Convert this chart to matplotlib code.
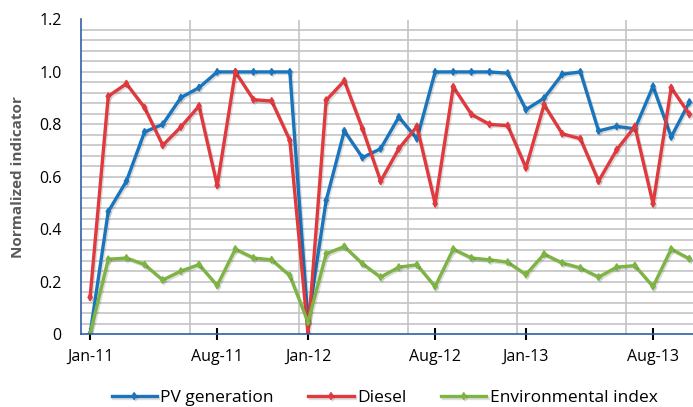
import numpy as np
import matplotlib.pyplot as plt
import matplotlib.patheffects as pe

# monthly values, Jan-11 .. Oct-13
months = [m + "-" + y for y in ["11", "12", "13"]
          for m in ["Jan", "Feb", "Mar", "Apr", "May", "Jun",
                    "Jul", "Aug", "Sep", "Oct", "Nov", "Dec"]][:34]

pv = [0, 0.467, 0.583, 0.771, 0.80, 0.902, 0.94, 1.0, 1.0, 1.0, 1.0, 1.0,
      0.05, 0.51, 0.775, 0.673, 0.707, 0.828, 0.745, 1.0, 1.0, 1.0, 1.0, 0.995,
      0.856, 0.90, 0.991, 1.0, 0.775, 0.792, 0.783, 0.945, 0.752, 0.885]
diesel = [0.14, 0.907, 0.955, 0.864, 0.72, 0.79, 0.87, 0.567, 1.0, 0.894, 0.889, 0.739,
          0.0, 0.892, 0.966, 0.783, 0.583, 0.707, 0.792, 0.497, 0.943, 0.838, 0.80, 0.795,
          0.634, 0.875, 0.764, 0.745, 0.583, 0.703, 0.792, 0.497, 0.94, 0.838]
env = [0.0, 0.285, 0.29, 0.265, 0.206, 0.24, 0.265, 0.185, 0.324, 0.29, 0.283, 0.223,
       0.045, 0.306, 0.334, 0.268, 0.217, 0.255, 0.264, 0.181, 0.324, 0.29, 0.283, 0.274,
       0.227, 0.305, 0.271, 0.252, 0.217, 0.255, 0.261, 0.181, 0.324, 0.287]

tick_labels = ["Jan-11", "Aug-11", "Jan-12", "Aug-12", "Jan-13", "Aug-13"]

plt.rcParams['font.family'] = ['Open Sans', 'DejaVu Sans']

fig = plt.figure(figsize=(6.93, 4.07), dpi=100)
ax = fig.add_axes([81/693, 1-334/407, 1-81/693, (334-19.5)/407])

x = np.arange(len(months))
shadow = [pe.SimpleLineShadow(offset=(1, -1.2), alpha=0.13), pe.Normal()]
ax.plot(x, pv, color='#1a75bc', lw=2.4, marker='d', ms=3.5, label='PV generation', path_effects=shadow)
ax.plot(x, diesel, color='#e0393e', lw=2.4, marker='d', ms=3.5, label='Diesel', path_effects=shadow)
ax.plot(x, env, color='#7db443', lw=2.4, marker='d', ms=3.5, label='Environmental index', path_effects=shadow)

ax.set_xlim(-0.5, 33.2)
ax.set_ylim(0, 1.2)

# grid
for v in np.arange(0.04, 1.2001, 0.04):
    ax.axhline(v, color='#c4c4c4', lw=1.2, zorder=0)
for g in [5.5, 11.5, 17.5, 23.5, 29.5]:
    ax.axvline(g, color='#c4c4c4', lw=1.2, zorder=0)

ax.set_yticks([0, 0.2, 0.4, 0.6, 0.8, 1.0, 1.2])
ax.set_yticklabels(["0", "0.2", "0.4", "0.6", "0.8", "1.0", "1.2"], fontsize=11.5)
ax.tick_params(axis='y', length=0, pad=14)

ax.set_xticks([months.index(t) for t in tick_labels])
ax.set_xticklabels(tick_labels, fontsize=11.5)
ax.tick_params(axis='x', direction='inout', length=8, width=1.5, color='black', pad=7)

for s in ['top', 'right']:
    ax.spines[s].set_visible(False)
for s in ['left', 'bottom']:
    ax.spines[s].set_color('#2e5fa8')
    ax.spines[s].set_linewidth(1.2)

ax.set_ylabel("Normalized indicator", fontsize=11, fontweight='bold', color='#595959', labelpad=10)

fig.legend(loc='center', bbox_to_anchor=(0.555, 0.022), ncol=3, frameon=False,
           fontsize=12.5, handlelength=2.6, columnspacing=2.0, handletextpad=0.2)

fig.savefig("out.png", dpi=100)
